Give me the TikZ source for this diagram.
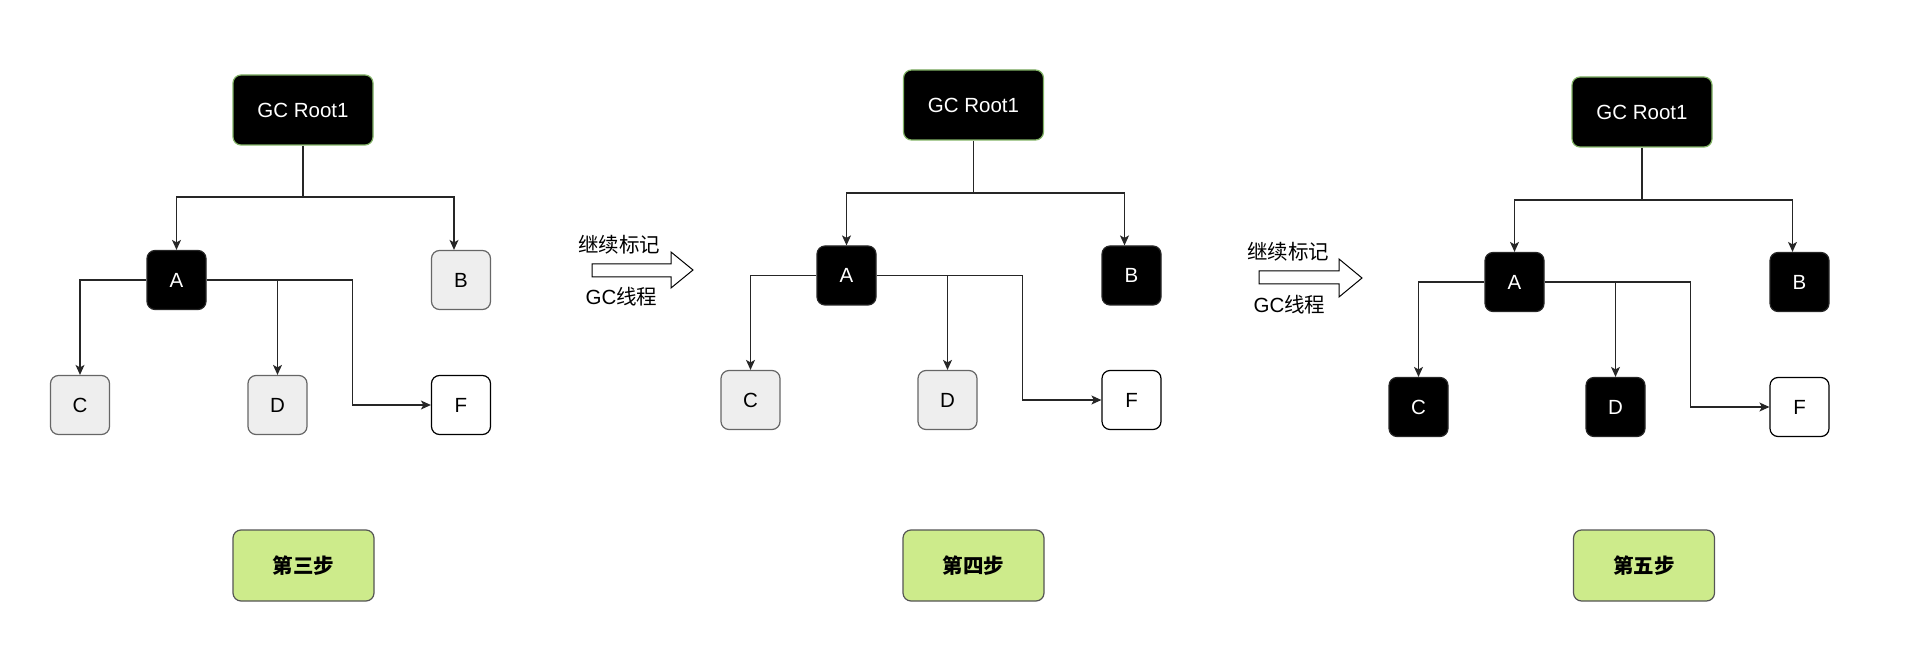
\documentclass[tikz,border=0pt]{standalone}
\usepackage{fontspec}
\setmainfont{Liberation Sans}
\newfontfamily\cjk{Noto Sans CJK SC}
\usetikzlibrary{arrows.meta}
\definecolor{rootdraw}{HTML}{82B366}
\definecolor{grayfill}{HTML}{EEEEEE}
\definecolor{graydraw}{HTML}{666666}
\definecolor{stepfill}{HTML}{CDEB8B}
\definecolor{stepdraw}{HTML}{555555}
\tikzset{
  box/.style={rectangle, rounded corners=8pt, line width=1.2pt, minimum width=59pt, minimum height=59pt, inner sep=0pt, font=\fontsize{20.5}{24}\selectfont},
  blackbox/.style={box, fill=black, draw=black!85, text=white},
  graybox/.style={box, fill=grayfill, draw=graydraw, text=black},
  whitebox/.style={box, fill=white, draw=black, text=black},
  rootbox/.style={box, fill=black, draw=rootdraw, text=white, minimum width=140pt, minimum height=70pt},
  stepbox/.style={box, fill=stepfill, draw=stepdraw, minimum width=141pt, minimum height=71pt, font=\fontsize{20.5}{24}\selectfont\cjk\bfseries},
  conn/.style={draw=black!85, line width=1.2pt, -{Stealth[length=10pt,width=9pt,inset=2.5pt]}},
  plain/.style={draw=black!85, line width=1.2pt},
  bigarrow/.style={draw=black, line width=1pt, fill=white},
  lbl/.style={inner sep=0pt, font=\fontsize{20.5}{24}\selectfont}
}
\begin{document}
\begin{tikzpicture}[x=1pt,y=-1pt]
\useasboundingbox (0,0) rectangle (1912,660);
% ---------- Panel 1 ----------
\node[rootbox] (R1) at (303,110) {GC Root1};
\node[blackbox] (A1) at (176.5,280) {A};
\node[graybox] (B1) at (461,280) {B};
\node[graybox] (C1) at (80,405) {C};
\node[graybox] (D1) at (277.5,405) {D};
\node[whitebox] (F1) at (461,405) {F};
\coordinate (J1) at (303,197);
\draw[plain] (R1.south) -- (J1);
\draw[conn] (J1) -| (A1.north);
\draw[conn] (J1) -| ([xshift=-7pt]B1.north);
\draw[conn] (A1.west) -| (C1.north);
\draw[conn] (A1.east) -| (D1.north);
\draw[conn] (A1.east) -- ++(146,0) |- (F1.west);
\node[stepbox] (S1) at (303.5,565.5) {第三步};
% ---------- Arrow 1 ----------
\node[lbl] (T1a) at (619,245) {\cjk 继续标记};
\node[lbl] (T1b) at (621.5,297) {GC\cjk 线程};
\draw[bigarrow] (592,264) -- (671,264) -- (671,252) -- (693,270) -- (671,288) -- (671,277) -- (592,277) -- cycle;
% ---------- Panel 2 ----------
\node[rootbox] (R2) at (973.5,105) {GC Root1};
\node[blackbox] (A2) at (846.5,275.5) {A};
\node[blackbox] (B2) at (1131.5,275.5) {B};
\node[graybox] (C2) at (750.5,400) {C};
\node[graybox] (D2) at (947.5,400) {D};
\node[whitebox] (F2) at (1131.5,400) {F};
\coordinate (J2) at (973.5,193);
\draw[plain] (R2.south) -- (J2);
\draw[conn] (J2) -| (A2.north);
\draw[conn] (J2) -| ([xshift=-7pt]B2.north);
\draw[conn] (A2.west) -| (C2.north);
\draw[conn] (A2.east) -| (D2.north);
\draw[conn] (A2.east) -- ++(146,0) |- (F2.west);
\node[stepbox] (S2) at (973.5,565.5) {第四步};
% ---------- Arrow 2 ----------
\node[lbl] (T2a) at (1288,252) {\cjk 继续标记};
\node[lbl] (T2b) at (1289.5,305) {GC\cjk 线程};
\draw[bigarrow] (1259,271) -- (1339,271) -- (1339,259) -- (1362,278) -- (1339,297) -- (1339,284) -- (1259,284) -- cycle;
% ---------- Panel 3 ----------
\node[rootbox] (R3) at (1642,112) {GC Root1};
\node[blackbox] (A3) at (1514.5,282) {A};
\node[blackbox] (B3) at (1799.5,282) {B};
\node[blackbox] (C3) at (1418.5,407) {C};
\node[blackbox] (D3) at (1615.5,407) {D};
\node[whitebox] (F3) at (1799.5,407) {F};
\coordinate (J3) at (1642,200);
\draw[plain] (R3.south) -- (J3);
\draw[conn] (J3) -| (A3.north);
\draw[conn] (J3) -| ([xshift=-7pt]B3.north);
\draw[conn] (A3.west) -| (C3.north);
\draw[conn] (A3.east) -| (D3.north);
\draw[conn] (A3.east) -- ++(146,0) |- (F3.west);
\node[stepbox] (S3) at (1644,565.5) {第五步};
\end{tikzpicture}
\end{document}
